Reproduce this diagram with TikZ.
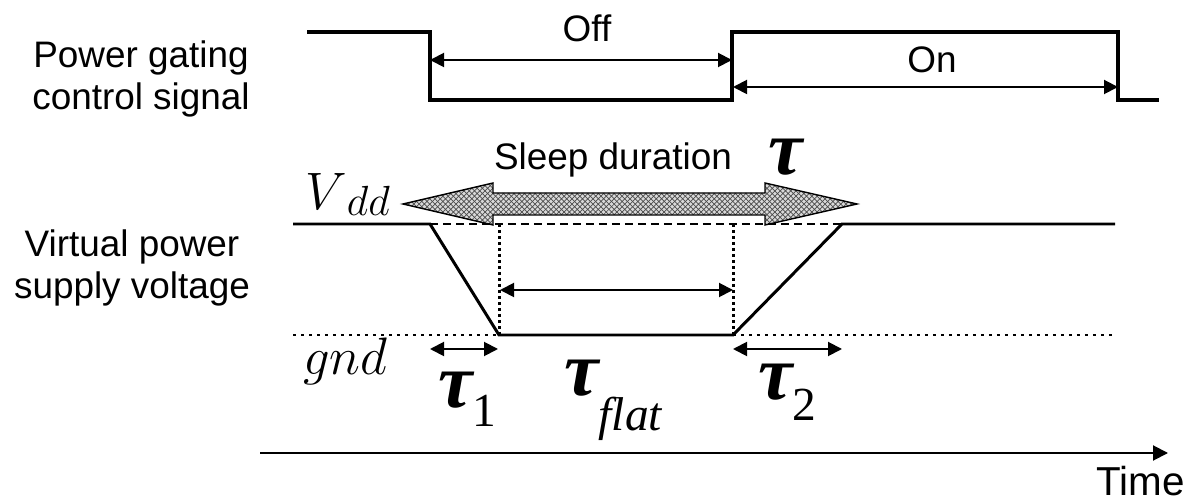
\RequirePackage{fix-cm}
\documentclass[tikz,border=0pt]{standalone}
\usepackage{fontspec}
\setmainfont{Liberation Sans}
\newfontfamily\timesfont{Liberation Serif}
\usetikzlibrary{arrows.meta, patterns}

\newcommand{\tauglyph}{{\fontsize{44}{50}\selectfont\timesfont\bfseries\itshape τ}}
\newcommand{\tausub}[2]{\tauglyph\raisebox{#1}{\fontsize{27}{30}\selectfont\timesfont #2}}

\begin{document}
\begin{tikzpicture}[x=0.02cm, y=-0.02cm,
    every node/.style={inner sep=0pt, font=\fontsize{21}{24}\selectfont},
    sigline/.style={line width=1.9pt, line join=miter},
    voltline/.style={line width=1.7pt, line join=miter},
    span/.style={{Triangle[length=0.28cm, width=0.28cm]}-{Triangle[length=0.28cm, width=0.28cm]}, line width=1.1pt},
    mathlbl/.style={font=\fontsize{30}{34}\selectfont}]
    \useasboundingbox (0,0) rectangle (1189,502);

    % row labels
    \node[align=center] (siglbl) at (141,79) {Power gating\\control signal};
    \node[align=center] (voltlbl) at (132,268) {Virtual power\\supply voltage};

    % control signal
    \coordinate (offL) at (430,60);
    \coordinate (offR) at (732,60);
    \coordinate (onL) at (733,87);
    \coordinate (onR) at (1118,87);
    \draw[sigline] (307,32) -- (430,32) -- (430,100) -- (732,100) -- (732,32) -- (1118,32) -- (1118,100) -- (1159,100);
    \draw[span] (offL) -- (offR);
    \draw[span] (onL) -- (onR);
    \node (off) at (587,28) {Off};
    \node (on) at (932,60) {On};

    % sleep duration arrow
    \fill[gray!30] (403,204) -- (493,183) -- (493,193) -- (765,193) -- (765,183) -- (857,204) -- (765,225) -- (765,215) -- (493,215) -- (493,225) -- cycle;
    \path[pattern=crosshatch, pattern color=black!70] (403,204) -- (493,183) -- (493,193) -- (765,193) -- (765,183) -- (857,204) -- (765,225) -- (765,215) -- (493,215) -- (493,225) -- cycle;
    \draw[line width=0.8pt, line join=miter] (403,204) -- (493,183) -- (493,193) -- (765,193) -- (765,183) -- (857,204) -- (765,225) -- (765,215) -- (493,215) -- (493,225) -- cycle;
    \node (sleep) at (613,160) {Sleep duration};
    \node[anchor=base west] (tau) at (768,175) {\tauglyph};

    % virtual supply voltage
    \coordinate (vddL) at (430,224);
    \coordinate (vddR) at (842,224);
    \coordinate (gndL) at (499,335);
    \coordinate (gndR) at (733,335);
    \draw[line width=1pt, dash pattern=on 0.16cm off 0.1cm] (vddL) -- (vddR);
    \draw[line width=1.6pt, dash pattern=on 0.06cm off 0.1cm] (293,335) -- (1115,335);
    \draw[line width=1.7pt, dash pattern=on 0.06cm off 0.06cm] (499,224) -- (gndL);
    \draw[line width=1.7pt, dash pattern=on 0.06cm off 0.06cm] (733,224) -- (gndR);
    \draw[voltline] (293,224) -- (vddL) -- (gndL) -- (gndR) -- (vddR) -- (1115,224);
    \node[mathlbl, anchor=base west] (vdd) at (305,210) {$V$\raisebox{-0.12cm}{\fontsize{24}{26}\selectfont$dd$}};
    \node[mathlbl, anchor=base west] (gnd) at (303,375) {$gnd$};

    % durations
    \coordinate (flatL) at (500,290);
    \coordinate (flatR) at (733,290);
    \coordinate (t1L) at (430,349);
    \coordinate (t1R) at (498,349);
    \coordinate (t2L) at (733,349);
    \coordinate (t2R) at (842,349);
    \draw[span] (flatL) -- (flatR);
    \draw[span] (t1L) -- (t1R);
    \draw[span] (t2L) -- (t2R);
    \node[anchor=base west] (tau1) at (438,408) {\tausub{-0.38cm}{1}};
    \node[anchor=base west] (tauflat) at (564,396) {\tausub{-0.7cm}{\itshape flat}};
    \node[anchor=base west] (tau2) at (758,400) {\tausub{-0.42cm}{2}};

    % time axis
    \coordinate (t0) at (260,453);
    \coordinate (tend) at (1168,453);
    \draw[-{Triangle[length=0.3cm, width=0.3cm]}, line width=1.1pt] (t0) -- (tend);
    \node[anchor=base east, font=\fontsize{23}{26}\selectfont] (time) at (1185,496) {Time};
\end{tikzpicture}
\end{document}
